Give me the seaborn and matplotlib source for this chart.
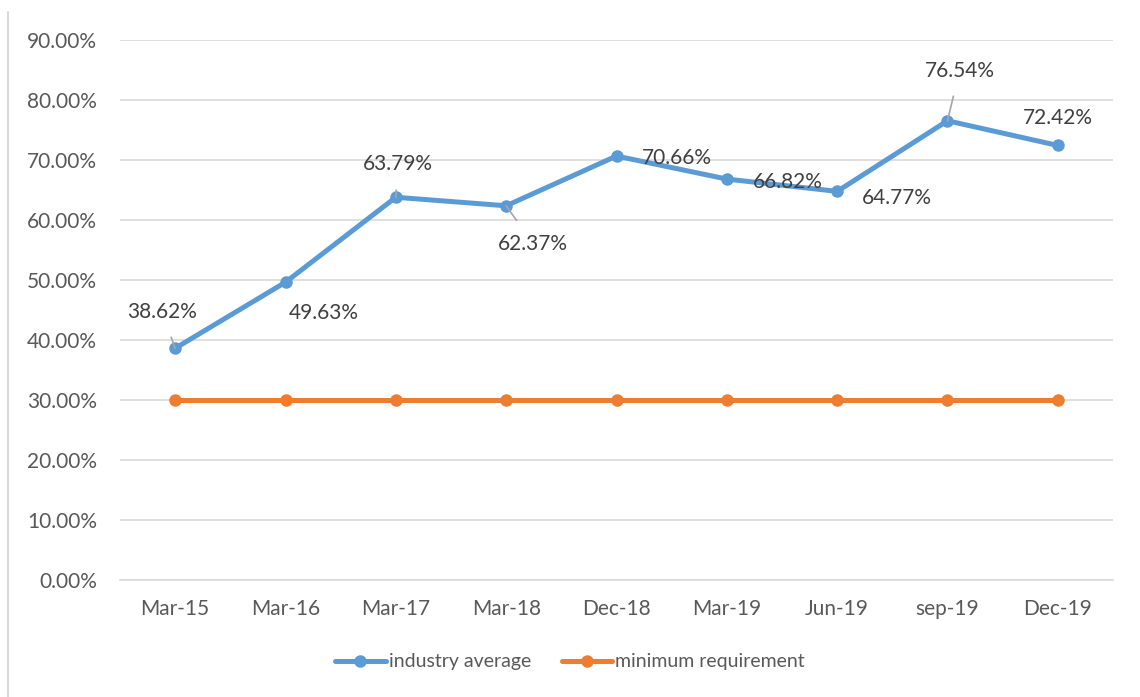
"""Industry average vs minimum requirement line chart."""

import pandas as pd
import matplotlib
matplotlib.use("Agg")
import matplotlib.pyplot as plt
from matplotlib.lines import Line2D
from matplotlib.ticker import FuncFormatter
import seaborn as sns

PERIODS = ["Mar-15", "Mar-16", "Mar-17", "Mar-18", "Dec-18", "Mar-19", "Jun-19", "sep-19", "Dec-19"]
INDUSTRY_AVG = [38.62, 49.63, 63.79, 62.37, 70.66, 66.82, 64.77, 76.54, 72.42]
MIN_REQUIREMENT = [30.0] * 9
SERIES_NAMES = ["industry average", "minimum requirement"]
COLORS = ["#5B9BD5", "#ED7D31"]

# label offsets in pixels (dx, dy) and whether a leader line is drawn
LABEL_OFFSETS = [(-13, 36, True), (38, -31, False), (2, 33, True), (27, -38, True),
                 (60, -2, False), (61, -3, False), (60, -7, False), (12, 50, True), (0, 27, False)]


def main() -> None:
    df = pd.DataFrame(
        {
            "period": PERIODS * 2,
            "value": INDUSTRY_AVG + MIN_REQUIREMENT,
            "series": [SERIES_NAMES[0]] * len(PERIODS) + [SERIES_NAMES[1]] * len(PERIODS),
        }
    )

    sns.set_theme(style="white")
    plt.rcParams["font.family"] = ["Lato", "DejaVu Sans"]

    fig = plt.figure(figsize=(11.4, 6.97), dpi=100)
    ax = fig.add_axes([120 / 1140, 1 - 580 / 697, 993 / 1140, 540 / 697])

    sns.lineplot(
        data=df, x="period", y="value", hue="series", palette=COLORS,
        marker="o", markersize=9, markeredgewidth=0, linewidth=3.6,
        sort=False, ax=ax, legend=False,
    )

    ax.set_ylim(0, 90)
    ax.set_xlim(-0.5, len(PERIODS) - 0.5)
    ax.set_yticks(range(0, 91, 10))
    ax.yaxis.set_major_formatter(FuncFormatter(lambda v, _: f"{v:.2f}%"))
    ax.grid(axis="y", color="#D9D9D9", linewidth=1.2)
    ax.set_axisbelow(True)
    for side in ["top", "right", "left"]:
        ax.spines[side].set_visible(False)
    ax.spines["bottom"].set_color("#D9D9D9")
    ax.spines["bottom"].set_linewidth(1.2)
    ax.tick_params(axis="both", length=0, labelsize=15, labelcolor="#595959")
    ax.tick_params(axis="y", pad=16.5)
    ax.tick_params(axis="x", pad=14)
    ax.set_xlabel("")
    ax.set_ylabel("")

    for i, (value, (dx, dy, leader)) in enumerate(zip(INDUSTRY_AVG, LABEL_OFFSETS)):
        ax.annotate(
            f"{value:.2f}%", xy=(i, value), xytext=(dx, dy), textcoords="offset pixels",
            ha="center", va="center", fontsize=15, color="#404040",
            arrowprops=dict(arrowstyle="-", color="#A6A6A6", lw=1.2, shrinkA=9, shrinkB=0) if leader else None,
        )

    handles = [
        Line2D([0], [0], color=c, linewidth=3.6, marker="o", markersize=9, markeredgewidth=0)
        for c in COLORS
    ]
    fig.legend(
        handles, SERIES_NAMES, loc="center", bbox_to_anchor=(0.5, 1 - 662 / 697), ncol=2,
        frameon=False, fontsize=14, labelcolor="#595959", handlelength=2.6,
        handletextpad=0.15, columnspacing=1.6,
    )

    fig.add_artist(Line2D([8 / 1140, 8 / 1140], [0, 1 - 12 / 697], color="#D9D9D9", linewidth=1.5))

    fig.savefig("out.png", dpi=100)
    plt.close(fig)


if __name__ == "__main__":
    main()
